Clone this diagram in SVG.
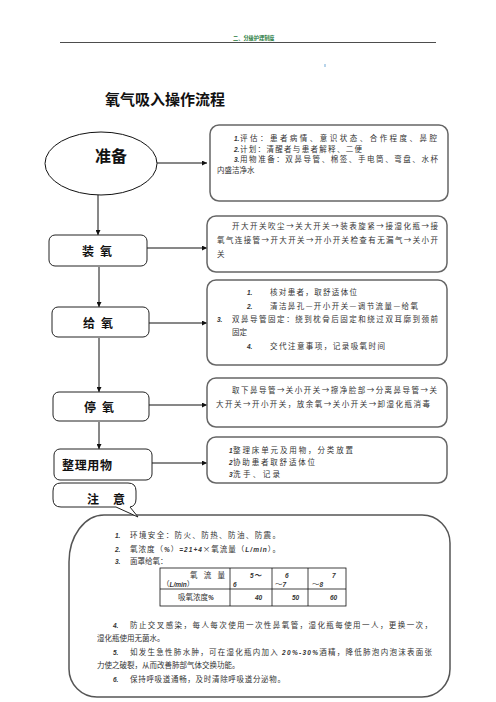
<svg xmlns="http://www.w3.org/2000/svg" width="496" height="702" viewBox="0 0 496 702">
<defs>
<marker id="ah" viewBox="0 0 10 10" refX="10" refY="5" markerWidth="6" markerHeight="5" markerUnits="userSpaceOnUse" orient="auto">
<path d="M0 0 L10 5 L0 10 Z" fill="#111"/>
</marker>
<style>
.cjk{font-family:"Noto Sans CJK SC","Liberation Sans",sans-serif}
.body{font-family:"Noto Sans CJK SC","Liberation Sans",sans-serif;font-size:7.5px;fill:#333}
.n{font-family:"Liberation Sans","DejaVu Sans",sans-serif;font-style:italic;font-weight:bold;font-size:6.5px;fill:#333}
.lbl{font-family:"Noto Sans CJK SC","Liberation Sans",sans-serif;font-weight:bold;font-size:12px;fill:#111}
.lbox{fill:#fff;stroke:#222;stroke-width:1}
.rbox{fill:#fff;stroke:#666;stroke-width:1.5}
.conn line{stroke:#111;stroke-width:1;marker-end:url(#ah)}
</style>
</defs>
<rect width="496" height="702" fill="#fff"/>

<g id="header">
<text x="233" y="40" class="cjk" font-size="5.2" font-weight="bold" fill="#1f7a3c">二、分级护理制度</text>
<line x1="60" y1="42.5" x2="436" y2="42.5" stroke="#000" stroke-width="0.7"/>
<rect x="324" y="64" width="2" height="3" fill="#b8d4ea"/>
</g>

<g id="title">
<text x="105" y="105" class="cjk" font-size="15" font-weight="bold" fill="#111">氧气吸入操作流程</text>
</g>

<g id="connectors" class="conn">
<line x1="157" y1="163" x2="207" y2="163"/>
<line x1="98" y1="195" x2="98" y2="235"/>
<line x1="147" y1="248" x2="207" y2="248"/>
<line x1="99" y1="267" x2="99" y2="307"/>
<line x1="149" y1="323" x2="207" y2="323"/>
<line x1="99" y1="338" x2="99" y2="392"/>
<line x1="149" y1="405" x2="207" y2="405"/>
<line x1="99" y1="422" x2="99" y2="449"/>
<line x1="152" y1="463" x2="207" y2="463"/>
</g>

<g id="node-prepare">
<ellipse cx="101" cy="163.5" rx="56" ry="31.5" fill="#fff" stroke="#111" stroke-width="1"/>
<text x="95" y="162" class="cjk" font-size="16" font-weight="bold" fill="#111">准备</text>
</g>

<g id="node-prepare-detail">
<rect class="rbox" x="210" y="125" width="238" height="76" rx="9"/>
<text x="234" y="141" class="n">1.</text>
<text x="240" y="141" class="body" textLength="197" lengthAdjust="spacing">评估：患者病情、意识状态、合作程度、鼻腔</text>
<text x="234" y="151.5" class="n">2.</text>
<text x="240" y="151.5" class="body" textLength="122" lengthAdjust="spacing">计划：清醒者与患者解释、二便</text>
<text x="234" y="162" class="n">3.</text>
<text x="240" y="162" class="body" textLength="198" lengthAdjust="spacing">用物准备：双鼻导管、棉签、手电筒、弯盘、水杯</text>
<text x="217" y="172.5" class="body">内盛洁净水</text>
</g>

<g id="node-install">
<rect class="lbox" x="49" y="235" width="98" height="31" rx="6"/>
<text x="82" y="256" class="lbl" textLength="30" lengthAdjust="spacing">装 氧</text>
</g>

<g id="node-install-detail">
<rect class="rbox" x="207" y="216" width="240" height="56" rx="9"/>
<text x="232" y="229" class="body" textLength="206" lengthAdjust="spacing">开大开关吹尘→关大开关→装表旋紧→接湿化瓶→接</text>
<text x="217" y="243" class="body" textLength="221" lengthAdjust="spacing">氧气连接管→开大开关→开小开关检查有无漏气→关小开</text>
<text x="217" y="256.5" class="body">关</text>
</g>

<g id="node-give">
<rect class="lbox" x="52" y="307" width="97" height="30" rx="6"/>
<text x="83" y="327.5" class="lbl" textLength="30" lengthAdjust="spacing">给 氧</text>
</g>

<g id="node-give-detail">
<rect class="rbox" x="207" y="280" width="240" height="85" rx="9"/>
<text x="247" y="295" class="n">1.</text>
<text x="270" y="295" class="body" textLength="87" lengthAdjust="spacing">核对患者，取舒适体位</text>
<text x="247" y="309" class="n">2.</text>
<text x="270" y="309" class="body" textLength="148" lengthAdjust="spacing">清洁鼻孔—开小开关—调节流量—给氧</text>
<text x="217" y="322" class="n">3.</text>
<text x="232" y="322" class="body" textLength="206" lengthAdjust="spacing">双鼻导管固定：绕到枕骨后固定和绕过双耳廓到颈前</text>
<text x="232" y="335" class="body">固定</text>
<text x="247" y="349" class="n">4.</text>
<text x="270" y="349" class="body" textLength="115" lengthAdjust="spacing">交代注意事项，记录吸氧时间</text>
</g>

<g id="node-stop">
<rect class="lbox" x="53" y="392" width="96" height="29" rx="6"/>
<text x="84" y="411.5" class="lbl" textLength="30" lengthAdjust="spacing">停 氧</text>
</g>

<g id="node-stop-detail">
<rect class="rbox" x="207" y="378" width="240" height="49" rx="9"/>
<text x="232" y="393" class="body" textLength="205" lengthAdjust="spacing">取下鼻导管→关小开关→擦净脸部→分离鼻导管→关</text>
<text x="216" y="407" class="body" textLength="214" lengthAdjust="spacing">大开关→开小开关，放余氧→关小开关→卸湿化瓶消毒</text>
</g>

<g id="node-tidy">
<rect class="lbox" x="54" y="449" width="98" height="31" rx="6"/>
<text x="62" y="470" class="lbl" font-size="12.5" textLength="50" lengthAdjust="spacing">整理用物</text>
</g>

<g id="node-tidy-detail">
<rect class="rbox" x="207" y="437" width="240" height="46" rx="9"/>
<text x="229" y="453" class="n">1</text>
<text x="233" y="453" class="body" textLength="120" lengthAdjust="spacing">整理床单元及用物，分类放置</text>
<text x="229" y="465" class="n">2</text>
<text x="233" y="465" class="body" textLength="82" lengthAdjust="spacing">协助患者取舒适体位</text>
<text x="229" y="477" class="n">3</text>
<text x="233" y="477" class="body" textLength="47" lengthAdjust="spacing">洗手、记录</text>
</g>

<g id="node-notes-box">
<path d="M104 515 H422 A28 28 0 0 1 450 543 V669 A28 28 0 0 1 422 697 H97 A28 28 0 0 1 69 669 V562 A35 47 0 0 1 104 515 Z" fill="#fff" stroke="#555" stroke-width="1.5"/>
</g>

<g id="node-notes-callout">
<path d="M61 483 L128 483 Q136 483 136 491 L136 499 Q136 506 130 507 L138 517 L116 507 L61 507 Q53 507 53 499 L53 491 Q53 483 61 483 Z" fill="#fff" stroke="#222" stroke-width="1"/>
<text x="87" y="504" class="lbl" textLength="38" lengthAdjust="spacing">注 意</text>
</g>

<g id="notes-text">
<text x="115" y="537.5" class="n">1.</text>
<text x="130" y="537.5" class="body" textLength="150" lengthAdjust="spacing">环境安全：防火、防热、防油、防震。</text>
<text x="115" y="551.5" class="n">2.</text>
<text x="130" y="551.5" class="body" textLength="150" lengthAdjust="spacing">氧浓度（<tspan class="n">%</tspan>）<tspan class="n">=21+4</tspan>×氧流量（<tspan class="n">L/min</tspan>）。</text>
<text x="115" y="563.5" class="n">3.</text>
<text x="130" y="563.5" class="body">面罩给氧：</text>

<g id="table" stroke="#111" stroke-width="0.8" fill="none">
<rect x="160" y="568" width="186" height="38"/>
<line x1="160" y1="589" x2="346" y2="589"/>
<line x1="230" y1="568" x2="230" y2="606"/>
<line x1="272" y1="568" x2="272" y2="606"/>
<line x1="308" y1="568" x2="308" y2="606"/>
</g>
<text x="190" y="577.5" class="body" textLength="35" lengthAdjust="spacing">氧 流 量</text>
<text x="162" y="587" class="body">（<tspan class="n">L/min</tspan>）</text>
<text x="250" y="577.5" class="n">5<tspan class="body">～</tspan></text>
<text x="233" y="587" class="n">6</text>
<text x="285" y="577.5" class="n">6</text>
<text x="275" y="587" class="body">～<tspan class="n">7</tspan></text>
<text x="332" y="577.5" class="n">7</text>
<text x="312" y="587" class="body">～<tspan class="n">8</tspan></text>
<text x="178" y="600" class="body">吸氧浓度<tspan class="n">%</tspan></text>
<text x="255" y="600" class="n">40</text>
<text x="292" y="600" class="n">50</text>
<text x="330" y="600" class="n">60</text>

<text x="113" y="628" class="n">4.</text>
<text x="130" y="628" class="body" textLength="302" lengthAdjust="spacing">防止交叉感染，每人每次使用一次性鼻氧管，湿化瓶每使用一人，更换一次，</text>
<text x="97" y="641" class="body">湿化瓶使用无菌水。</text>
<text x="113" y="655" class="n">5.</text>
<text x="130" y="655" class="body" textLength="302" lengthAdjust="spacing">如发生急性肺水肿，可在湿化瓶内加入 <tspan class="n">20%-30%</tspan>酒精，降低肺泡内泡沫表面张</text>
<text x="97" y="668" class="body">力使之破裂，从而改善肺部气体交换功能。</text>
<text x="113" y="682" class="n">6.</text>
<text x="130" y="682" class="body" textLength="155" lengthAdjust="spacing">保持呼吸道通畅，及时清除呼吸道分泌物。</text>
</g>
</svg>
